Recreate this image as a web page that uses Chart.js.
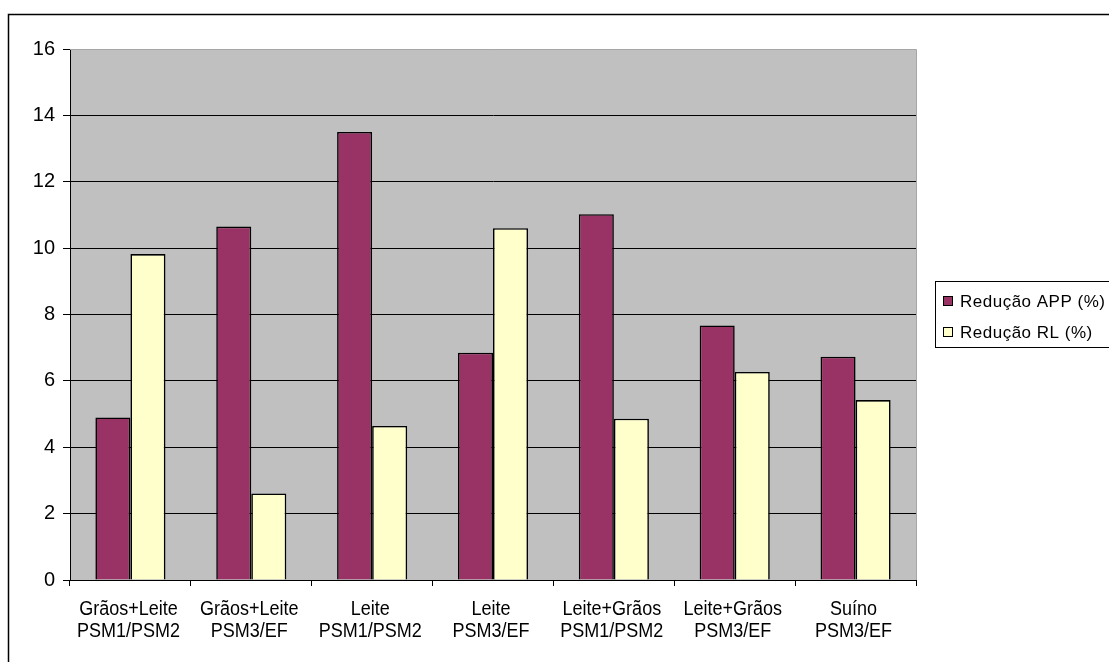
<!DOCTYPE html>
<html>
<head>
<meta charset="utf-8">
<script src="https://cdn.jsdelivr.net/npm/chart.js@4.4.1/dist/chart.umd.min.js"></script>
<style>
  html, body { margin: 0; padding: 0; background: #fff; }
  #wrap { position: relative; width: 1109px; height: 662px; }
</style>
</head>
<body>
<div id="wrap"><canvas id="c" width="1109" height="662"></canvas></div>
<script>
const categories = [
  ["Grãos+Leite", "PSM1/PSM2"],
  ["Grãos+Leite", "PSM3/EF"],
  ["Leite", "PSM1/PSM2"],
  ["Leite", "PSM3/EF"],
  ["Leite+Grãos", "PSM1/PSM2"],
  ["Leite+Grãos", "PSM3/EF"],
  ["Suíno", "PSM3/EF"]
];
const seriesNames = ["Redução APP (%)", "Redução RL (%)"];
const reducaoAPP = [4.9, 10.65, 13.5, 6.85, 11.02, 7.67, 6.73];
const reducaoRL = [9.82, 2.61, 4.64, 10.6, 4.86, 6.27, 5.42];
const yTicks = [0, 2, 4, 6, 8, 10, 12, 14, 16];

const colors = ["#993366", "#FFFFCC"];

const frameAndPlotBg = {
  id: 'frameAndPlotBg',
  beforeDraw(chart) {
    const ctx = chart.ctx;
    const a = chart.chartArea;
    ctx.save();
    ctx.fillStyle = '#ffffff';
    ctx.fillRect(0, 0, chart.width, chart.height);
    ctx.fillStyle = '#C0C0C0';
    ctx.fillRect(a.left, a.top, a.right - a.left, a.bottom - a.top);
    ctx.strokeStyle = '#000';
    ctx.lineWidth = 1.5;
    ctx.strokeRect(8.5, 14.5, 1300, 1000);
    ctx.restore();
  },
  afterDatasetsDraw(chart) {
    const ctx = chart.ctx;
    const a = chart.chartArea;
    ctx.save();
    ctx.strokeStyle = '#a6a6a6';
    ctx.lineWidth = 1;
    ctx.beginPath();
    ctx.moveTo(a.left, a.top + 0.5);
    ctx.lineTo(a.right + 0.5, a.top + 0.5);
    ctx.lineTo(a.right + 0.5, a.bottom);
    ctx.stroke();
    ctx.restore();
  },
  afterDraw(chart) {
    const ctx = chart.ctx;
    ctx.save();
    // category labels (condensed, as in the reference), positioned by the x scale
    const xs = chart.scales.x;
    ctx.fillStyle = '#000';
    ctx.font = '20px "Liberation Sans", Arial, sans-serif';
    ctx.textAlign = 'center';
    ctx.textBaseline = 'alphabetic';
    chart.data.labels.forEach((lab, i) => {
      const cx = xs.getPixelForTick(i) - 2;
      const lines = Array.isArray(lab) ? lab : [lab];
      lines.forEach((t, j) => {
        ctx.save();
        ctx.translate(cx, 615 + j * 22);
        ctx.scale(0.9, 1);
        ctx.fillText(t, 0, 0);
        ctx.restore();
      });
    });
    // legend box
    ctx.strokeStyle = '#000';
    ctx.lineWidth = 1;
    ctx.strokeRect(935.5, 281.5, 180, 66);
    ctx.font = '17px "Liberation Sans", Arial, sans-serif';
    try { ctx.letterSpacing = '0.5px'; } catch (e) {}
    ctx.textBaseline = 'middle';
    ctx.textAlign = 'left';
    const rows = [301, 332];
    chart.data.datasets.forEach((ds, i) => {
      const y = rows[i];
      ctx.fillStyle = ds.backgroundColor;
      ctx.fillRect(943, y - 4.5, 9, 9);
      ctx.strokeStyle = '#000';
      ctx.strokeRect(943.5, y - 4.5, 9, 9);
      ctx.fillStyle = '#000';
      ctx.fillText(ds.label, 960, y + 1);
    });
    ctx.restore();
  }
};

new Chart(document.getElementById('c'), {
  type: 'bar',
  data: {
    labels: categories,
    datasets: [
      { label: seriesNames[0], data: reducaoAPP, backgroundColor: colors[0], borderColor: '#000', borderWidth: 1.6, categoryPercentage: 0.58, barPercentage: 1.0 },
      { label: seriesNames[1], data: reducaoRL, backgroundColor: colors[1], borderColor: '#000', borderWidth: 1.6, categoryPercentage: 0.58, barPercentage: 1.0 }
    ]
  },
  options: {
    responsive: false,
    animation: false,
    layout: { padding: { top: 49, right: 193, left: 0, bottom: 0 } },
    plugins: { legend: { display: false }, tooltip: { enabled: false } },
    scales: {
      x: {
        offset: true,
        grid: { display: true, drawOnChartArea: false, drawTicks: true, tickLength: 6, tickColor: '#000', color: '#000' },
        border: { display: true, color: '#000', width: 1 },
        ticks: { display: false, autoSkip: false },
        afterFit(scale) { scale.height = 82; }
      },
      y: {
        min: 0,
        max: 16,
        afterBuildTicks(scale) { scale.ticks = yTicks.map(v => ({ value: v })); },
        grid: {
          color: (c) => (c.tick && c.tick.value === 16) ? 'rgba(0,0,0,0)' : '#000',
          lineWidth: 1,
          drawTicks: true,
          tickLength: 7,
          tickColor: '#000'
        },
        border: { display: true, color: '#000', width: 1 },
        ticks: {
          color: '#000',
          padding: 8,
          font: { family: '"Liberation Sans", Arial, sans-serif', size: 20 }
        },
        afterFit(scale) { scale.width = 70; }
      }
    }
  },
  plugins: [frameAndPlotBg]
});
</script>
</body>
</html>
